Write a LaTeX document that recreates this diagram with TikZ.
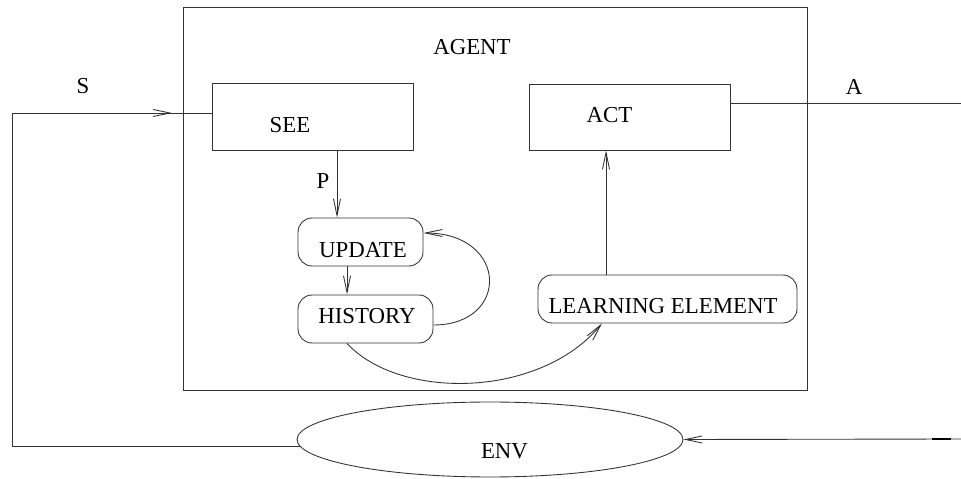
\documentclass[tikz,border=0pt]{standalone}
\usepackage{fontspec}
\setmainfont{Liberation Serif}
\usetikzlibrary{
    shapes.geometric,
    arrows.meta,
    positioning,
}

\begin{document}
\begin{tikzpicture}[
    x=0.02cm, y=-0.02cm,
    line width=0.5pt,
    wire/.style={draw=black!80},
    box/.style={rectangle, draw=black!80, minimum width=#1, inner sep=0pt},
    rbox/.style={rectangle, rounded corners=8pt, draw=black!80, minimum width=#1, minimum height=0.96cm, inner sep=0pt},
    lbl/.style={inner sep=0pt, font=\fontsize{13}{15}\selectfont},
    arr/.style={wire, -{Straight Barb[length=9.5pt,width=4pt]}}
]
    \useasboundingbox (0,0) rectangle (961,479);
    % boxes
    \node[box=12.48cm, minimum height=7.66cm] (agent) at (495,198.5) {};
    \node[box=4.02cm, minimum height=1.34cm] (see) at (312.5,116.5) {};
    \node[box=4.02cm, minimum height=1.32cm] (act) at (629.5,117) {};
    \node[rbox=2.5cm]  (upd)  at (360.5,242) {};
    \node[rbox=2.7cm]  (hist) at (365.5,319) {};
    \node[rbox=5.18cm] (learn) at (667.5,299) {};
    \node[ellipse, draw=black!80, minimum width=7.72cm, minimum height=1.5cm, inner sep=0pt] (env) at (490,439.5) {};
    % texts
    \node[lbl] (agenttxt) at (472,47.5) {AGENT};
    \node[lbl] (seetxt)   at (290,125)  {SEE};
    \node[lbl] (acttxt)   at (609.5,115) {ACT};
    \node[lbl] (updtxt)   at (363,250)  {UPDATE};
    \node[lbl] (histtxt)  at (367,316)  {HISTORY};
    \node[lbl] (learntxt) at (663,306.5) {LEARNING ELEMENT};
    \node[lbl] (envtxt)   at (504.5,451) {ENV};
    \node[lbl] (ptxt)     at (323,181)  {P};
    \node[lbl] (stxt)     at (83,86)    {S};
    \node[lbl] (atxt)     at (854,87)   {A};
    % free ends
    \coordinate (sbend) at (12,113);
    \coordinate (stip)  at (172,113);
    \coordinate (aend)  at (961,103);
    \coordinate (eend)  at (961,439);
    % connectors
    \draw[wire] (env.182.5) -| (sbend) -- (see.west |- sbend);
    \draw[arr] (sbend) -- (stip);
    \draw[wire] (act.east |- aend) -- (aend);
    \draw[arr] (eend) -- (env.east);
    \draw[line width=1.3pt, black] (932,439) -- (951,439);
    \draw[arr] ([xshift=0.49cm]see.south) -- ([xshift=0.49cm]see.south |- upd.north);
    \draw[arr] ([xshift=-0.27cm]upd.south) -- ([xshift=-0.27cm]upd.south |- hist.north);
    \draw[arr] ([yshift=-0.12cm]hist.east) .. controls +(77,0) and +(85,0) .. ([yshift=0.18cm]upd.east);
    \draw[arr] ([xshift=-0.37cm]hist.south) .. controls +(53,57) and +(-62,75) .. ([xshift=-1.31cm]learn.south);
    \draw[arr] ([xshift=-1.23cm]learn.north) -- ([xshift=-1.23cm]learn.north |- act.south);
\end{tikzpicture}
\end{document}
